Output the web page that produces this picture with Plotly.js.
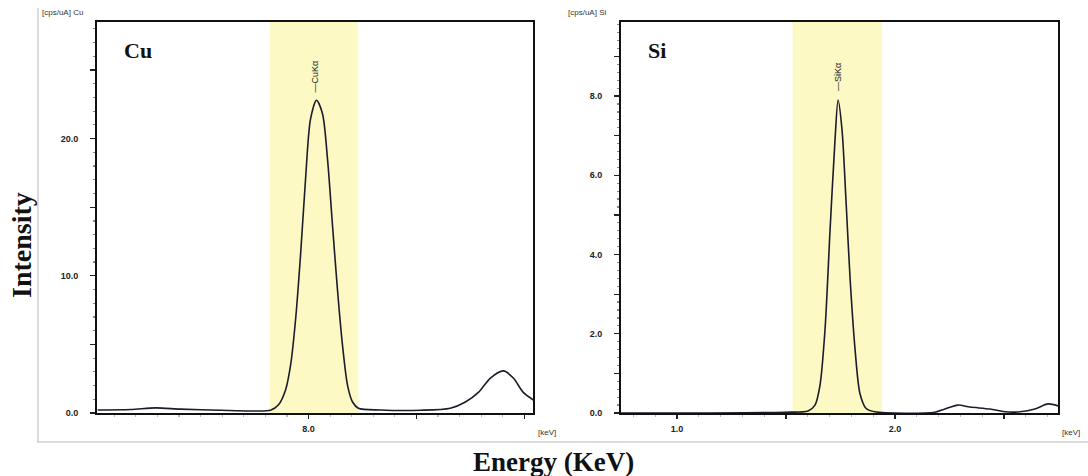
<!DOCTYPE html>
<html><head><meta charset="utf-8">
<script src="https://cdn.plot.ly/plotly-3.0.1.min.js"></script>
<style>html,body{margin:0;padding:0;background:#fff}#c{width:1088px;height:476px}</style>
</head><body><div id="c"></div>
<script>
// Cu spectrum (keV, cps/uA)
var cuEnergy = [7.023,7.176,7.292,7.407,7.593,7.731,7.824,7.861,7.894,7.917,7.940,7.963,7.986,8.009,8.037,8.065,8.088,8.111,8.134,8.157,8.181,8.204,8.231,8.333,8.519,8.657,8.727,8.787,8.843,8.903,8.949,8.995,9.042];
var cuIntensity = [0.22,0.25,0.37,0.28,0.2,0.15,0.2,0.6,1.7,3.5,6.8,11.5,17.0,21.4,22.8,21.8,18.5,13.7,9.0,5.0,2.0,0.8,0.35,0.22,0.2,0.35,0.8,1.5,2.55,3.07,2.55,1.5,0.95];
// Si spectrum
var siEnergy = [0.743,1.106,1.495,1.601,1.633,1.656,1.679,1.702,1.725,1.739,1.757,1.775,1.794,1.817,1.839,1.867,1.908,2.183,2.229,2.289,2.344,2.436,2.505,2.573,2.642,2.702,2.748];
var siIntensity = [0.0,0.0,0.02,0.05,0.2,0.7,2.1,4.6,6.9,7.9,7.15,5.4,3.4,1.6,0.5,0.12,0.03,0.02,0.1,0.2,0.15,0.1,0.03,0.03,0.1,0.23,0.18];
// highlighted windows
var cuWindow = [7.82, 8.23];
var siWindow = [1.53, 1.94];
// tick labels
var cuXTicks = [8.0, 8.5, 9.0], cuXText = ['8.0','',''];
var cuYTicks = [0,5,10,15,20,25], cuYText = ['0.0','','10.0','','20.0',''];
var siXTicks = [1.0, 1.5, 2.0, 2.5], siXText = ['1.0','','2.0',''];
var siYTicks = [0,1,2,3,4,5,6,7,8,9], siYText = ['0.0','','2.0','','4.0','','6.0','','8.0',''];

var W=1088,H=476;
function px(x){return x/W;} function py(y){return 1-y/H;}
var tickFont = {family:'Arial, Liberation Sans, sans-serif', size:9, color:'#222', weight:'bold'};
function xax(dom, rng, tv, tt){
  return {domain:dom, range:rng, tickmode:'array', tickvals:tv, ticktext:tt, ticks:'outside', ticklen:4, tickwidth:1.2, tickcolor:'#222',
    showline:true, linecolor:'#111', linewidth:2, mirror:true, showgrid:false, zeroline:false, tickfont:tickFont, ticklabelstandoff:2,
    minor:{tickmode:'linear', dtick:0.1, ticks:'outside', ticklen:2, tickcolor:'#bbb'}};
}
function yax(dom, rng, tv, tt, anchor, mdt){
  return {domain:dom, range:rng, anchor:anchor, tickmode:'array', tickvals:tv, ticktext:tt, ticks:'outside', ticklen:5, tickwidth:1.2, tickcolor:'#222',
    showline:true, linecolor:'#111', linewidth:2, mirror:true, showgrid:false, zeroline:false, tickfont:tickFont, ticklabelstandoff:10,
    minor:{tickmode:'linear', tick0:0, dtick:mdt, ticks:'outside', ticklen:2, tickcolor:'#888'}};
}
var lineStyle = {color:'#1c1c2c', width:1.6, shape:'spline', smoothing:0.8};
var data = [
  {x:cuEnergy, y:cuIntensity, xaxis:'x', yaxis:'y', mode:'lines', line:lineStyle, hoverinfo:'skip'},
  {x:siEnergy, y:siIntensity, xaxis:'x2', yaxis:'y2', mode:'lines', line:lineStyle, hoverinfo:'skip'}
];
var yDom = [py(413), py(22)];
var layout = {
  width:W, height:H, margin:{l:0,r:0,t:0,b:0}, paper_bgcolor:'#fff', plot_bgcolor:'rgba(0,0,0,0)', showlegend:false,
  xaxis: xax([px(97), px(533)], [7.02, 9.04], cuXTicks, cuXText),
  yaxis: yax(yDom, [0, 28.5], cuYTicks, cuYText, 'x', 1),
  xaxis2: Object.assign(xax([px(621), px(1058)], [0.743, 2.748], siXTicks, siXText), {anchor:'y2'}),
  yaxis2: yax(yDom, [0, 9.87], siYTicks, siYText, 'x2', 0.2),
  shapes: [
    {type:'rect', xref:'x', yref:'y domain', x0:cuWindow[0], x1:cuWindow[1], y0:0, y1:1, fillcolor:'rgb(252,249,196)', line:{width:0}, layer:'below'},
    {type:'rect', xref:'x2', yref:'y2 domain', x0:siWindow[0], x1:siWindow[1], y0:0, y1:1, fillcolor:'rgb(252,249,196)', line:{width:0}, layer:'below'},
    {type:'line', xref:'paper', yref:'paper', x0:px(37), x1:px(1088), y0:py(442), y1:py(442), line:{color:'#d0d0d0', width:1.5}},
    {type:'line', xref:'paper', yref:'paper', x0:px(38), x1:px(38), y0:py(8), y1:py(442), line:{color:'#d0d0d0', width:1.5}}
  ],
  annotations: [
    {text:'[cps/uA] Cu', xref:'paper', yref:'paper', x:px(40), y:py(12), xanchor:'left', yanchor:'middle', showarrow:false, font:{family:'Arial, sans-serif', size:8, color:'#333'}},
    {text:'[cps/uA] Si', xref:'paper', yref:'paper', x:px(566), y:py(12), xanchor:'left', yanchor:'middle', showarrow:false, font:{family:'Arial, sans-serif', size:8, color:'#333'}},
    {text:'<b>Cu</b>', xref:'paper', yref:'paper', x:px(122), y:py(51), xanchor:'left', yanchor:'middle', showarrow:false, font:{family:'Liberation Serif, Times New Roman, serif', size:22, color:'#111'}},
    {text:'<b>Si</b>', xref:'paper', yref:'paper', x:px(646), y:py(51), xanchor:'left', yanchor:'middle', showarrow:false, font:{family:'Liberation Serif, Times New Roman, serif', size:22, color:'#111'}},
    {text:'—CuKα', xref:'x', yref:'paper', x:8.028, y:py(77), xanchor:'center', yanchor:'middle', textangle:-90, showarrow:false, font:{family:'Arial, sans-serif', size:9, color:'#222'}},
    {text:'—SiKα', xref:'x2', yref:'paper', x:1.739, y:py(77), xanchor:'center', yanchor:'middle', textangle:-90, showarrow:false, font:{family:'Arial, sans-serif', size:9, color:'#222'}},
    {text:'[keV]', xref:'paper', yref:'paper', x:px(536), y:py(432), xanchor:'left', yanchor:'middle', showarrow:false, font:{family:'Arial, sans-serif', size:8, color:'#333'}},
    {text:'[keV]', xref:'paper', yref:'paper', x:px(1060), y:py(432), xanchor:'left', yanchor:'middle', showarrow:false, font:{family:'Arial, sans-serif', size:8, color:'#333'}},
    {text:'<b>Intensity</b>', xref:'paper', yref:'paper', x:px(22), y:py(245), xanchor:'center', yanchor:'middle', textangle:-90, showarrow:false, font:{family:'Liberation Serif, Times New Roman, serif', size:28, color:'#111'}},
    {text:'<b>Energy (KeV)</b>', xref:'paper', yref:'paper', x:px(553), y:py(462), xanchor:'center', yanchor:'middle', showarrow:false, font:{family:'Liberation Serif, Times New Roman, serif', size:27, color:'#111'}}
  ]
};
Plotly.newPlot('c', data, layout, {displayModeBar:false, staticPlot:true});
</script></body></html>
